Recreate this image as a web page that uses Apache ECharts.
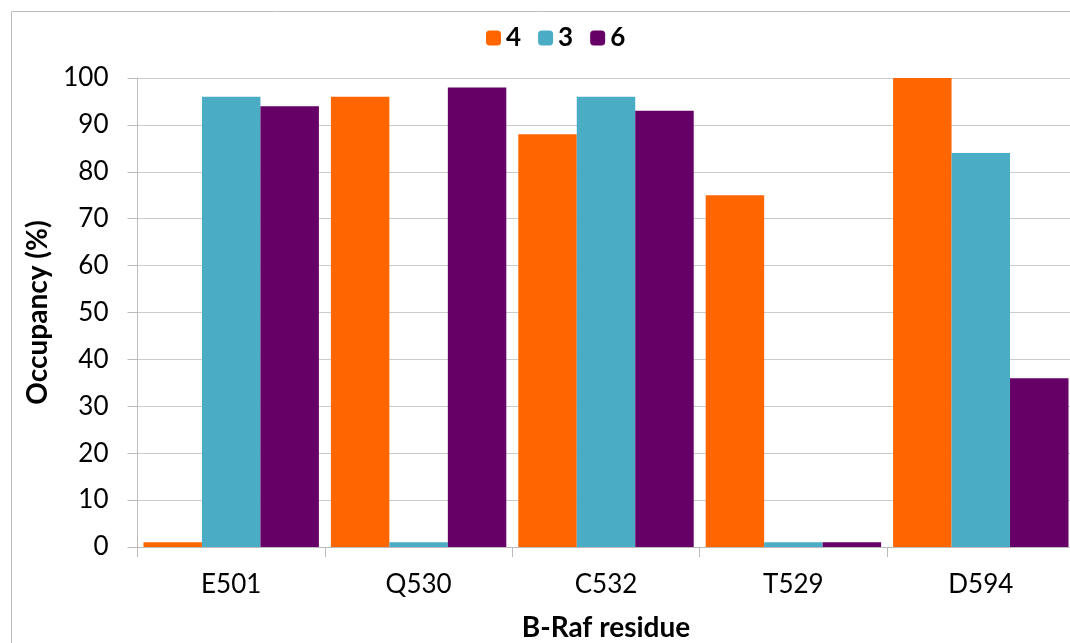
<!DOCTYPE html>
<html><head><meta charset="utf-8">
<script src="https://cdn.jsdelivr.net/npm/echarts@6/dist/echarts.min.js"></script>
<style>html,body{margin:0;padding:0;background:#fff}#c{width:1070px;height:643px}</style>
</head><body><div id="c"></div>
<script>
const categories = ['E501','Q530','C532','T529','D594'];
const seriesNames = ['4','3','6'];
const values4 = [1, 96, 88, 75, 100];
const values3 = [96, 1, 96, 1, 84];
const values6 = [94, 98, 93, 1, 36];
const colors = ['#FF6600','#4BACC6','#660066'];
const FONT = 'Lato, "Open Sans", sans-serif';
const chart = echarts.init(document.getElementById('c'));
const data = [values4, values3, values6];
chart.setOption({
  animation: false,
  color: colors,
  graphic: [{type:'rect', shape:{x:11.5,y:11.5,width:1080,height:660}, style:{fill:'none',stroke:'#BBBBBB',lineWidth:1}, silent:true}],
  legend: {top: 20, left: 481, itemWidth: 15, itemHeight: 15, itemGap: 17,
    textStyle: {fontFamily: FONT, fontWeight: 'bold', fontSize: 26, color: '#000'},
    data: seriesNames},
  grid: {left: 137.5, top: 78, width: 937, height: 469, outerBoundsMode: 'none', containLabel: false},
  xAxis: {type: 'category', data: categories,
    name: 'B-Raf residue', nameLocation: 'middle', nameGap: 67,
    nameTextStyle: {fontFamily: FONT, fontWeight: 'bold', fontSize: 28, color: '#000'},
    axisLine: {lineStyle: {color: '#BBBBBB'}},
    axisTick: {show: true, length: 10, lineStyle: {color: '#BBBBBB'}},
    axisLabel: {fontFamily: FONT, fontSize: 26, color: '#000', margin: 25}},
  yAxis: {type: 'value', min: 0, max: 100, interval: 10,
    name: 'Occupancy (%)', nameLocation: 'middle', nameGap: 85, nameRotate: 90,
    nameTextStyle: {fontFamily: FONT, fontWeight: 'bold', fontSize: 28, color: '#000'},
    axisLine: {show: true, lineStyle: {color: '#BBBBBB'}},
    axisTick: {show: true, length: 10, lineStyle: {color: '#BBBBBB'}},
    splitLine: {lineStyle: {color: '#CCCCCC', width: 1}},
    axisLabel: {fontFamily: FONT, fontSize: 26, color: '#000', margin: 29}},
  series: seriesNames.map((n, i) => ({
    name: n, type: 'bar', data: data[i], barGap: '0%', barCategoryGap: '6.4%',
    itemStyle: {color: colors[i]}
  }))
});
</script></body></html>
